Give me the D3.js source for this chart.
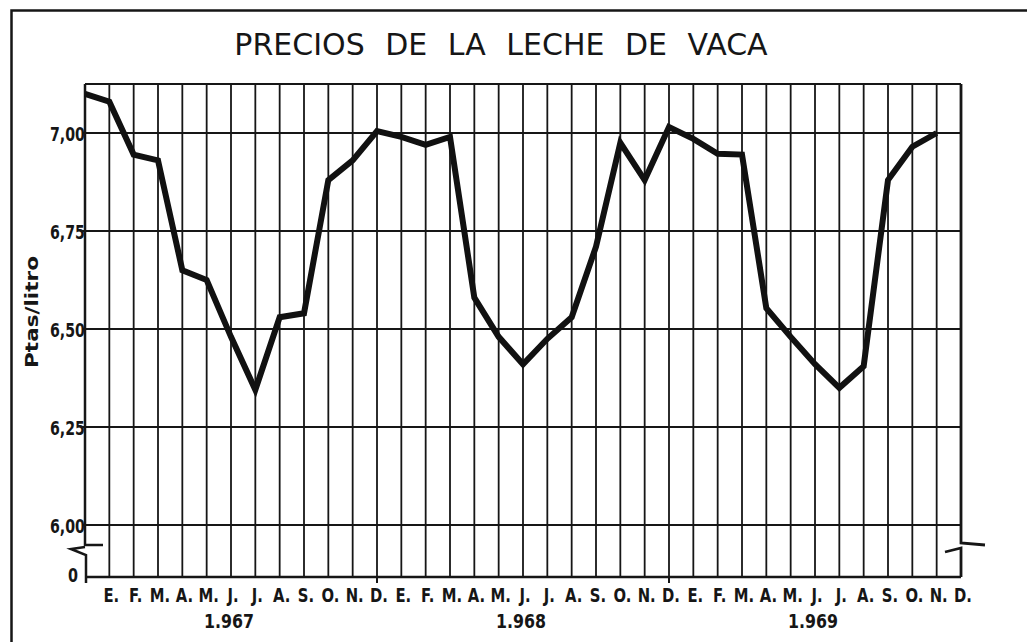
<!DOCTYPE html>
<html>
<head>
<meta charset="utf-8">
<script src="https://cdn.jsdelivr.net/npm/d3@7"></script>
<style>
  html, body { margin: 0; padding: 0; background: #fff; }
  svg { display: block; }
</style>
</head>
<body>
<div id="chart"></div>
<script>
// precios mensuales, desde D. 1966 hasta N. 1969
var prices = [7.10, 7.08, 6.945, 6.93, 6.65, 6.625, 6.48, 6.345, 6.53, 6.54, 6.88, 6.93,
              7.005, 6.99, 6.97, 6.99, 6.58, 6.48, 6.41, 6.475, 6.53, 6.71, 6.975, 6.88,
              7.015, 6.985, 6.947, 6.945, 6.553, 6.48, 6.41, 6.35, 6.405, 6.88, 6.965, 7.00];
var months = ["E.", "F.", "M.", "A.", "M.", "J.", "J.", "A.", "S.", "O.", "N.", "D."];
var years = ["1.967", "1.968", "1.969"];
var yTicks = [6.00, 6.25, 6.50, 6.75, 7.00];
var yTickLabels = ["6,00", "6,25", "6,50", "6,75", "7,00"];

var width = 1027, height = 642;
var ink = "#161616";

var svg = d3.select("#chart").append("svg")
  .attr("width", width)
  .attr("height", height);

var x = d3.scaleLinear().domain([0, 36]).range([85, 961]);
var y = d3.scaleLinear().domain([6, 7.125]).range([525, 84]);
var zeroY = y(6) + 52; // linea del cero, tras el corte del eje
var plotTop = y.range()[1];

// marco exterior
svg.append("path")
  .attr("d", `M${width + 5},10.5 H11.5 V${height + 5}`)
  .attr("fill", "none").attr("stroke", ink).attr("stroke-width", 2.5);

// titulo
svg.append("text")
  .attr("x", 501).attr("y", 55)
  .attr("text-anchor", "middle")
  .attr("font-family", "DejaVu Sans, sans-serif")
  .attr("font-size", 30)
  .attr("word-spacing", 11)
  .attr("fill", ink)
  .text("PRECIOS DE LA LECHE DE VACA");

// rejilla vertical (un mes por linea)
svg.append("g").selectAll("line")
  .data(d3.range(1, 36))
  .join("line")
  .attr("x1", d => x(d)).attr("x2", d => x(d))
  .attr("y1", plotTop).attr("y2", zeroY)
  .attr("stroke", ink).attr("stroke-width", 1.8);

// rejilla horizontal
svg.append("g").selectAll("line")
  .data(yTicks)
  .join("line")
  .attr("x1", x(0) - 3).attr("x2", x(36))
  .attr("y1", d => y(d)).attr("y2", d => y(d))
  .attr("stroke", ink).attr("stroke-width", 1.8);

// borde superior e inferior
svg.append("line")
  .attr("x1", x(0)).attr("x2", x(36)).attr("y1", plotTop).attr("y2", plotTop)
  .attr("stroke", ink).attr("stroke-width", 2.2);
svg.append("line")
  .attr("x1", x(0)).attr("x2", x(36)).attr("y1", zeroY).attr("y2", zeroY)
  .attr("stroke", ink).attr("stroke-width", 2.4);

// eje izquierdo con corte
var bl = x(0), br = x(36), by = y(6) + 20;
svg.append("path")
  .attr("d", `M${bl},${plotTop} V${by} L${bl + 18},${by}` +
             ` M${bl},${by + 2} L${bl - 14},${by + 4} L${bl + 1},${by + 10} V${zeroY + 6}`)
  .attr("fill", "none").attr("stroke", ink).attr("stroke-width", 2.5)
  .attr("stroke-linejoin", "miter");

// eje derecho con corte
svg.append("path")
  .attr("d", `M${br},${plotTop} V${by - 2} L${br + 24},${by}` +
             ` M${br - 16},${by + 7} L${br},${by + 3} V${zeroY}`)
  .attr("fill", "none").attr("stroke", ink).attr("stroke-width", 2.8)
  .attr("stroke-linejoin", "miter");

// marcas de fin de año
svg.append("g").selectAll("line")
  .data([12, 24])
  .join("line")
  .attr("x1", d => x(d)).attr("x2", d => x(d))
  .attr("y1", zeroY).attr("y2", zeroY + 6)
  .attr("stroke", ink).attr("stroke-width", 2);

// etiquetas del eje y
var labelFont = "DejaVu Sans, sans-serif";
svg.append("g").selectAll("text")
  .data(yTicks)
  .join("text")
  .attr("x", x(0) - 35)
  .attr("y", d => y(d) + 8)
  .attr("font-family", labelFont).attr("font-weight", "bold")
  .attr("font-size", 19)
  .attr("textLength", 35).attr("lengthAdjust", "spacingAndGlyphs")
  .attr("fill", ink)
  .text((d, i) => yTickLabels[i]);

svg.append("text")
  .attr("x", x(0) - 17)
  .attr("y", zeroY + 5)
  .attr("font-family", labelFont).attr("font-weight", "bold")
  .attr("font-size", 19)
  .attr("textLength", 10).attr("lengthAdjust", "spacingAndGlyphs")
  .attr("fill", ink)
  .text("0");

// titulo del eje y
svg.append("text")
  .attr("transform", "translate(38,312) rotate(-90)")
  .attr("text-anchor", "middle")
  .attr("font-family", labelFont).attr("font-weight", "bold")
  .attr("font-size", 17)
  .attr("textLength", 112).attr("lengthAdjust", "spacingAndGlyphs")
  .attr("fill", ink)
  .text("Ptas/litro");

// meses
var monthData = d3.range(36).map(i => ({ idx: i + 1, name: months[i % 12] }));
svg.append("g").selectAll("text")
  .data(monthData)
  .join("text")
  .attr("transform", d => `translate(${x(d.idx) + 2},602) scale(0.78,1)`)
  .attr("text-anchor", "middle")
  .attr("font-family", labelFont).attr("font-weight", "bold")
  .attr("font-size", 19)
  .attr("fill", ink)
  .text(d => d.name);

// años
svg.append("g").selectAll("text")
  .data(years)
  .join("text")
  .attr("x", (d, i) => x(6 + 12 * i) - 27)
  .attr("y", 628)
  .attr("font-family", labelFont).attr("font-weight", "bold")
  .attr("font-size", 19)
  .attr("textLength", 50).attr("lengthAdjust", "spacingAndGlyphs")
  .attr("fill", ink)
  .text(d => d);

// serie de precios
var line = d3.line()
  .x((d, i) => x(i))
  .y(d => y(d));

svg.append("path")
  .datum(prices)
  .attr("d", line)
  .attr("fill", "none")
  .attr("stroke", "#111")
  .attr("stroke-width", 6)
  .attr("stroke-linejoin", "miter")
  .attr("stroke-miterlimit", 3);
</script>
</body>
</html>
